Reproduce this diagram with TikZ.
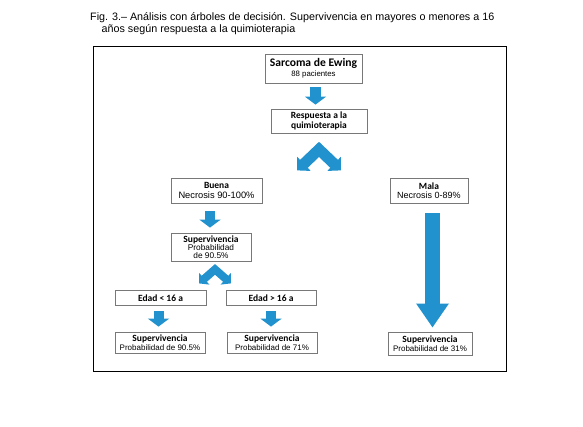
\documentclass[tikz,border=0pt]{standalone}
\usepackage{fontspec}
\setmainfont{Liberation Sans}
\newfontfamily\calibri{Carlito}
\usetikzlibrary{arrows.meta}
\definecolor{arrowblue}{RGB}{33,146,205}
\definecolor{boxgray}{RGB}{120,120,120}
\newcommand{\hdfont}[1][10]{\calibri\bfseries\fontsize{9.5}{#1}\selectfont}
\newcommand{\txfont}[1]{\normalfont\fontsize{#1}{10}\selectfont}
\tikzset{
  box/.style={draw=boxgray, line width=0.8pt, align=center, inner sep=0pt,
    font={\lineskiplimit=-\maxdimen\hdfont[#1]}},
  box/.default=10,
  blockarrow/.style={draw=arrowblue, line width=#1},
  tipsmall/.style={-{Triangle[length=8pt,width=21pt]}},
}
\begin{document}
\begin{tikzpicture}[x=1pt,y=-1pt]
  \useasboundingbox (0,0) rectangle (583,427);
  \node[anchor=base west, align=left, inner sep=0pt, font=\fontsize{10.75}{12}\selectfont] (caption) at (90,33)
    {Fig. 3.-- Análisis con árboles de decisión. Supervivencia en mayores o menores a 16\\
     \hspace*{11.5pt}años según respuesta a la quimioterapia};
  \draw[line width=0.9pt] (93,46) rectangle (506,371);
  % boxes
  \node[box, minimum width=97pt, minimum height=29pt] (sarcoma) at (313.5,68.5)
    {\fontsize{11.6}{10}\selectfont Sarcoma de Ewing\\ \txfont{7.8}88 pacientes};
  \node[box=10.5, minimum width=96pt, minimum height=24pt] (resp) at (319,121)
    {Respuesta a la\\ quimioterapia};
  \node[box, minimum width=91pt, minimum height=25pt] (buena) at (216.5,190.5)
    {Buena\\ \txfont{9.3}Necrosis 90-100\%};
  \node[box=9.5, minimum width=78pt, minimum height=25pt] (mala) at (429,190.5)
    {Mala\\ \txfont{9}Necrosis 0-89\%};
  \node[box=7.8, minimum width=80pt, minimum height=28pt] (supmid) at (211,247)
    {Supervivencia\\ \txfont{8.3}Probabilidad\\ \txfont{8.3}de 90.5\%};
  \node[box, minimum width=91pt, minimum height=15pt] (edad1) at (160.5,298) {Edad < 16 a};
  \node[box, minimum width=90pt, minimum height=15pt] (edad2) at (271,298) {Edad > 16 a};
  \node[box=8.5, minimum width=90pt, minimum height=21pt] (sup1) at (160,342.5)
    {Supervivencia\\ \txfont{8}Probabilidad de 90.5\%};
  \node[box=8.5, minimum width=90pt, minimum height=21pt] (sup2) at (272,342.5)
    {Supervivencia\\ \txfont{8}Probabilidad de 71\%};
  \node[box=8.5, minimum width=84pt, minimum height=23pt] (sup3) at (430,343.5)
    {Supervivencia\\ \txfont{8}Probabilidad de 31\%};
  % forks
  \coordinate (fork1) at ([yshift=-16pt]resp.south);
  \coordinate (fork2) at ([xshift=4pt,yshift=-8pt]supmid.south);
  % arrows
  \draw[blockarrow=11pt, tipsmall] ([xshift=2pt,yshift=-4pt]sarcoma.south) -- ([xshift=-3.5pt,yshift=4pt]resp.north);
  \draw[blockarrow=11pt, line join=miter, {Triangle[length=9.5pt,width=19pt]}-{Triangle[length=9.5pt,width=19pt]}]
    ([shift={(-22,21)}]fork1) -- (fork1) -- ([shift={(22,21)}]fork1);
  \draw[blockarrow=10pt, tipsmall] ([xshift=-6.5pt,yshift=-8pt]buena.south) -- ([xshift=-1pt,yshift=5pt]supmid.north);
  \draw[blockarrow=8pt, line join=miter, {Triangle[length=7pt,width=15pt]}-{Triangle[length=7pt,width=15pt]}]
    ([shift={(-16,14)}]fork2) -- (fork2) -- ([shift={(16,14)}]fork2);
  \draw[blockarrow=10pt, tipsmall] ([xshift=-2pt,yshift=-5.5pt]edad1.south) -- ([xshift=-1.5pt,yshift=5pt]sup1.north);
  \draw[blockarrow=10pt, tipsmall] ([yshift=-5.5pt]edad2.south) -- ([xshift=-1pt,yshift=5pt]sup2.north);
  \draw[blockarrow=15pt, -{Triangle[length=24pt,width=31pt]}] ([xshift=3.5pt,yshift=-10pt]mala.south) -- ([xshift=2.5pt,yshift=4pt]sup3.north);
\end{tikzpicture}
\end{document}
